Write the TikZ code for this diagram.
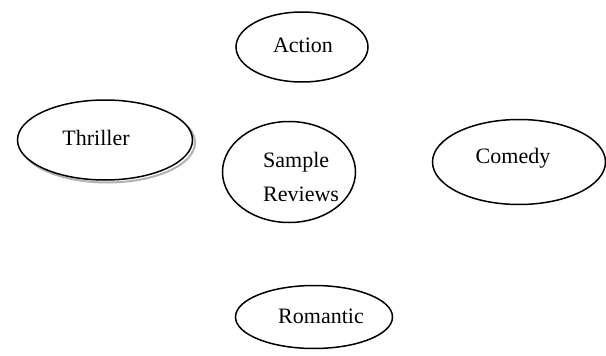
\documentclass[tikz,border=0pt]{standalone}
\usepackage{fontspec}
\setmainfont{Liberation Serif}
\usetikzlibrary{shapes.geometric}
\begin{document}
\begin{tikzpicture}[x=1pt,y=-1pt,
  oval/.style={draw, ellipse, line width=1.5pt, inner sep=0pt},
  lbl/.style={font=\fontsize{22}{34}\selectfont, inner sep=0pt, align=left}]
\useasboundingbox[fill=white] (0,0) rectangle (606,356);
% Action
\node[oval, minimum width=132pt, minimum height=70pt] (action) at (302,47) {};
\node[lbl] (actiont) at (303,45) {Action};
% Thriller with shadow
\node[draw=gray!60, ellipse, line width=2pt, inner sep=0pt, minimum width=175pt, minimum height=80pt] (thrillers) at (107.5,142.5) {};
\node[oval, fill=white, minimum width=175pt, minimum height=80pt] (thriller) at (105,140) {};
\node[lbl] (thrillert) at (96,138) {Thriller};
% Sample Reviews
\node[oval, minimum width=133pt, minimum height=101pt] (sample) at (289,172) {};
\node[lbl, anchor=west] (samplet) at (263,177) {Sample\\Reviews};
% Comedy
\node[oval, minimum width=173pt, minimum height=85pt] (comedy) at (519,162) {};
\node[lbl] (comedyt) at (513,158) {Comedy};
% Romantic
\node[oval, minimum width=157pt, minimum height=63pt] (romantic) at (314,317) {};
\node[lbl] (romantict) at (321,316) {Romantic};
\end{tikzpicture}
\end{document}
